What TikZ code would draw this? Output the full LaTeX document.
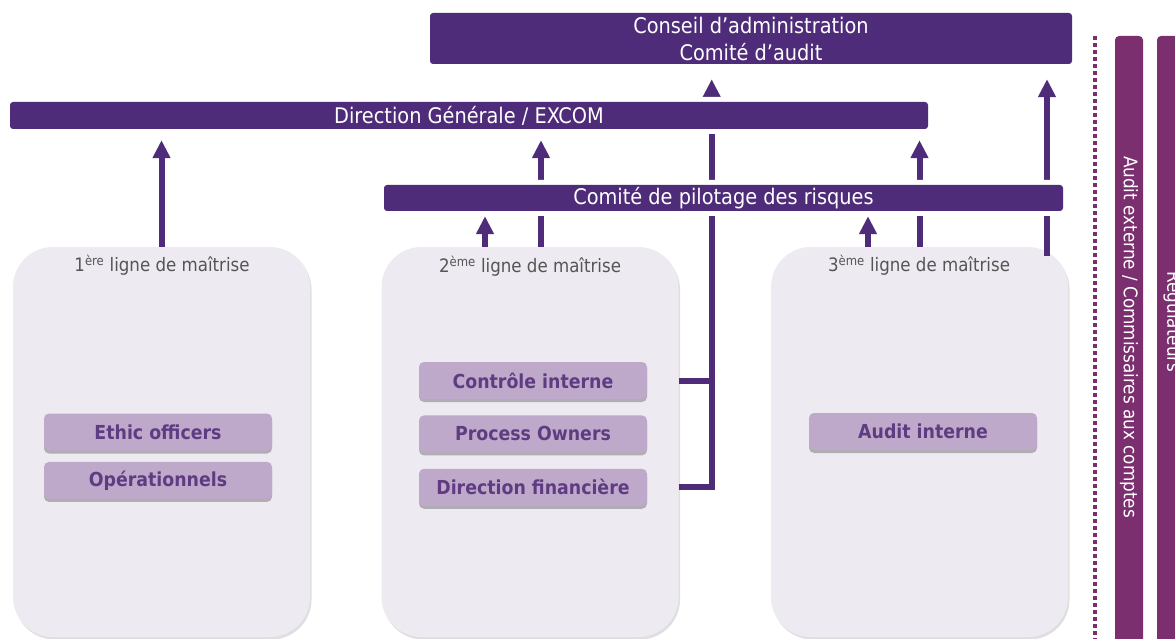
\documentclass[tikz,border=0pt]{standalone}
\usepackage{fontspec}
\setmainfont{DejaVu Sans Condensed}
\usetikzlibrary{arrows.meta}
\usetikzlibrary{positioning}
\usetikzlibrary{shadows}
\definecolor{violetfonce}{RGB}{79,44,121}
\definecolor{prune}{RGB}{123,47,111}
\definecolor{fondligne}{RGB}{238,234,241}
\definecolor{lilas}{RGB}{190,169,203}
\definecolor{textelilas}{RGB}{95,60,130}
\definecolor{titregris}{RGB}{85,85,85}
\pgfdeclarelayer{fond}
\pgfdeclarelayer{traits}
\pgfsetlayers{fond,traits,main}
\tikzset{
  barre/.style={fill=violetfonce, rounded corners=3pt, text=white, inner sep=0pt,
    align=center, font=\fontsize{21.5}{27}\selectfont,
    preaction={draw=white, line width=10pt}},
  ligne/.style={fill=fondligne, rounded corners=40pt, minimum width=297pt,
    minimum height=390pt, inner sep=0pt,
    drop shadow={shadow xshift=1.5pt, shadow yshift=-2.5pt, opacity=.25, fill=gray}},
  titre/.style={text=titregris, font=\fontsize{18.5}{20}\selectfont},
  poste/.style={fill=lilas, rounded corners=5pt, minimum width=228pt, minimum height=37pt,
    inner sep=0pt, text=textelilas, font=\fontsize{19.3}{20}\selectfont\bfseries,
    drop shadow={shadow xshift=0pt, shadow yshift=-3pt, opacity=.45, fill=gray!80!black}},
  trait/.style={violetfonce, line width=6pt},
  fleche/.style={trait, -{Triangle[width=17pt,length=18pt]}},
  colonne/.style={fill=prune, rounded corners=4pt},
}

\begin{document}
\begin{tikzpicture}[x=1pt,y=-1pt]
\useasboundingbox (0,0) rectangle (1175,639);

% instances
\node[barre, minimum width=642pt, minimum height=51pt] (ca) at (751,38.5)
  {Conseil d'administration\\Comité d'audit};
\node[barre, minimum width=918pt, minimum height=27pt] (dg) at (469,115.5)
  {Direction Générale / EXCOM};
\node[barre, minimum width=679pt, minimum height=26pt] (cp) at (723.5,198)
  {Comité de pilotage des risques};

% les trois lignes de maitrise
\begin{pgfonlayer}{fond}
\foreach \i/\x in {1/161.5, 2/530, 3/919.5} {
  \node[ligne] (l\i) at (\x,442) {};
}
\end{pgfonlayer}
\node[titre] (t1) at (162,265) {1\textsuperscript{ère} ligne de maîtrise};
\node[titre] (t2) at (530,266) {2\textsuperscript{ème} ligne de maîtrise};
\node[titre] (t3) at (919,265) {3\textsuperscript{ème} ligne de maîtrise};

\node[poste] (eo) at (158,432) {Ethic officers};
\node[poste, below=11pt of eo] (op) {Opérationnels};
\node[poste] (ci) at (533,380.5) {Contrôle interne};
\node[poste, below=16pt of ci] (po) {Process Owners};
\node[poste, below=16pt of po] (df) {Direction financière};
\node[poste] (ai) at (923,431.5) {Audit interne};

% remontees
\begin{pgfonlayer}{traits}
\draw[fleche, shorten >=11pt] (l1.north) -- (l1.north |- dg.south);
\draw[fleche, shorten >=5pt] ([xshift=-45pt]l2.north) -- ([xshift=-45pt]l2.north |- cp.south);
\draw[fleche, shorten >=11pt] ([xshift=11pt]l2.north) -- ([xshift=11pt]l2.north |- dg.south);
\draw[trait] (ci.east -| l2.east) -- ++(33,0);
\draw[fleche, shorten >=15pt] (df.east -| l2.east) -- ++(33,0) coordinate (j)
  -- (j |- ca.south);
\draw[fleche, shorten >=5pt] ([xshift=-51.5pt]l3.north) -- ([xshift=-51.5pt]l3.north |- cp.south);
\draw[fleche, shorten >=11pt] (l3.north) -- (l3.north |- dg.south);
\draw[fleche, shorten >=15pt] ([xshift=127.5pt,yshift=-9pt]l3.north)
  -- ([xshift=127.5pt]l3.north |- ca.south);
\end{pgfonlayer}

% externes
\draw[prune, line width=4.5pt, dash pattern=on 4pt off 3pt] (1095,36) -- (1095,639);
\fill[colonne] (1115,36) rectangle (1143,670);
\node[rotate=-90, text=white, font=\fontsize{18.7}{20}\selectfont] (ae) at (1129,337)
  {Audit externe / Commissaires aux comptes};
\fill[colonne] (1157,36) rectangle (1195,670);
\node[rotate=-90, text=white, font=\fontsize{18.7}{20}\selectfont] (reg) at (1173,322)
  {Régulateurs};
\end{tikzpicture}
\end{document}
